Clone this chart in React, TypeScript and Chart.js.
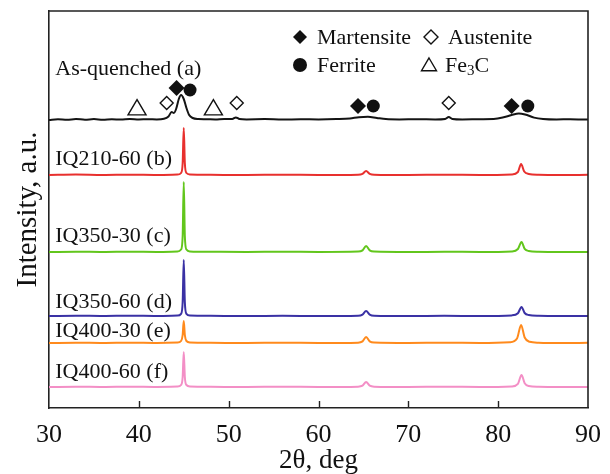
import { useEffect, useRef } from 'react';
import { Chart, registerables } from 'chart.js';

Chart.register(...registerables);

type Pt = [number, number];

// Diffraction patterns: [2θ (deg), intensity above the pattern's own baseline (a.u.)]
const AS_QUENCHED: Pt[] = [
  [30, 0], [31, 0.8], [32, 0.2], [33, 1], [34, 0.3], [35, 0.9], [36, 0.2], [37, 0.8],
  [38, 0.4], [39, 1], [40, 0.5], [41, 0.8], [42, 0.6], [42.8, 1.2], [43.3, 3.5], [43.65, 8],
  [43.9, 7], [44.15, 11], [44.45, 21], [44.7, 25], [45.0, 21], [45.3, 12], [45.6, 5],
  [46.0, 2], [46.6, 1], [47.5, 0.8], [48.5, 0.5], [49.5, 0.9], [50.4, 1], [50.8, 2.6],
  [51.2, 1], [52, 0.6], [54, 0.9], [56, 0.4], [58, 0.8], [60, 0.6], [62, 0.9], [63.5, 1.5],
  [64.5, 2.8], [65.5, 3.2], [66.5, 2], [67.5, 0.9], [69, 0.6], [71, 0.8], [73, 0.5],
  [74.1, 1], [74.5, 3], [74.9, 1], [76, 0.5], [78, 0.8], [79.5, 1], [80.5, 2.4],
  [81.5, 5], [82.3, 6.5], [83.0, 5.5], [84, 2.4], [85, 1], [86.5, 0.5], [88, 0.8], [90, 0.4],
];

const IQ210_60: Pt[] = [
  [30, 0], [33, 0.4], [36, 0], [39, 0.3], [42, 0], [44.3, 0.4], [44.7, 2], [44.88, 12],
  [45.0, 47], [45.12, 12], [45.3, 2], [45.7, 0.5], [48, 0.2], [52, 0], [56, 0.3], [60, 0],
  [64.4, 0.3], [64.9, 1.2], [65.3, 4], [65.7, 1.2], [66.2, 0.3], [70, 0], [74, 0.3], [78, 0],
  [81.5, 0.6], [82.2, 3], [82.55, 11], [82.9, 3.5], [83.4, 1], [84.5, 0.2], [87, 0], [90, 0.2],
];

const IQ350_30: Pt[] = [
  [30, 0], [33, 0.3], [36, 0], [39, 0.3], [42, 0.1], [44.3, 0.5], [44.7, 2.5], [44.88, 16],
  [45.0, 70], [45.12, 16], [45.3, 2.5], [45.7, 0.6], [48, 0.2], [52, 0], [56, 0.3], [60, 0],
  [64.4, 0.4], [64.9, 1.6], [65.3, 6], [65.7, 1.6], [66.2, 0.4], [70, 0], [74, 0.2], [78, 0.1],
  [81.5, 0.6], [82.2, 3], [82.6, 10], [82.95, 3.2], [83.4, 1], [84.5, 0.2], [87, 0], [90, 0.1],
];

const IQ350_60: Pt[] = [
  [30, 0], [33, 0.3], [36, 0], [39, 0.3], [42, 0], [44.3, 0.4], [44.7, 2.2], [44.88, 14],
  [45.0, 56], [45.12, 14], [45.3, 2.2], [45.7, 0.5], [48, 0.2], [52, 0], [56, 0.2], [60, 0],
  [64.4, 0.3], [64.9, 1.4], [65.3, 5], [65.7, 1.4], [66.2, 0.3], [70, 0], [74, 0.2], [78, 0],
  [81.5, 0.6], [82.2, 2.8], [82.6, 9], [82.95, 3], [83.4, 1], [84.5, 0.2], [87, 0], [90, 0],
];

const IQ400_30: Pt[] = [
  [30, 0], [33, 0.3], [36, 0], [39, 0.3], [42, 0], [44.3, 0.4], [44.7, 2], [44.88, 8],
  [45.0, 22], [45.12, 8], [45.3, 2], [45.7, 0.5], [48, 0.2], [52, 0], [56, 0.3], [60, 0],
  [64.4, 0.3], [64.9, 1.6], [65.3, 6], [65.7, 1.6], [66.2, 0.4], [70, 0], [74, 0.3], [78, 0],
  [81.3, 0.8], [82.1, 4.5], [82.55, 18], [82.95, 5.5], [83.5, 1.2], [84.5, 0.3], [87, 0], [90, 0.2],
];

const IQ400_60: Pt[] = [
  [30, 0], [33, 0.3], [36, 0], [39, 0.3], [42, 0], [44.3, 0.4], [44.7, 2], [44.88, 10],
  [45.0, 35], [45.12, 10], [45.3, 2], [45.7, 0.5], [48, 0.2], [52, 0], [56, 0.3], [60, 0],
  [64.4, 0.3], [64.9, 1.3], [65.3, 5], [65.7, 1.3], [66.2, 0.3], [70, 0], [74, 0.3], [78, 0],
  [81.5, 0.6], [82.2, 3.2], [82.6, 12], [82.95, 3.8], [83.4, 1], [84.5, 0.2], [87, 0], [90, 0.1],
];

const PATTERNS: Pt[][] = [AS_QUENCHED, IQ210_60, IQ350_30, IQ350_60, IQ400_30, IQ400_60];
const SAMPLE_NAMES = [
  'As-quenched (a)', 'IQ210-60 (b)', 'IQ350-30 (c)', 'IQ350-60 (d)', 'IQ400-30 (e)', 'IQ400-60 (f)',
];
// vertical offset of each stacked pattern
const BASELINES = [288, 233, 156, 92, 65, 21];

// phase markers: [2θ, stacked intensity]
const MARTENSITE: Pt[] = [[44.2, 320], [64.4, 302], [81.5, 302]];
const FERRITE: Pt[] = [[45.7, 318], [66.1, 302], [83.3, 302]];
const AUSTENITE: Pt[] = [[43.1, 305], [50.9, 305], [74.5, 305]];
const CEMENTITE: Pt[] = [[39.8, 300], [48.3, 300]];

const X_TICKS = [30, 40, 50, 60, 70, 80, 90];

const COLORS = ['#141414', '#e8302e', '#62c61c', '#3a31a4', '#ff8a1c', '#f38fc6'];
const SERIF = '"Liberation Serif", "Times New Roman", serif';
const INK = '#111';

// label baseline height above each pattern's baseline
const LABEL_RISE = [45, 10, 10, 8, 6, 9];

type MarkerKind = 'martensite' | 'ferrite' | 'austenite' | 'cementite';

function drawMarker(ctx: CanvasRenderingContext2D, kind: MarkerKind, x: number, y: number, r: number) {
  ctx.save();
  ctx.beginPath();
  if (kind === 'martensite' || kind === 'austenite') {
    ctx.moveTo(x, y - r);
    ctx.lineTo(x + r, y);
    ctx.lineTo(x, y + r);
    ctx.lineTo(x - r, y);
    ctx.closePath();
  } else if (kind === 'ferrite') {
    ctx.arc(x, y, r, 0, Math.PI * 2);
  } else {
    const h = r * 1.7;
    ctx.moveTo(x, y - h * 0.55);
    ctx.lineTo(x + r, y + h * 0.45);
    ctx.lineTo(x - r, y + h * 0.45);
    ctx.closePath();
  }
  if (kind === 'martensite' || kind === 'ferrite') {
    ctx.fillStyle = INK;
    ctx.fill();
  } else {
    ctx.fillStyle = '#fff';
    ctx.fill();
    ctx.lineWidth = 1.4;
    ctx.strokeStyle = INK;
    ctx.stroke();
  }
  ctx.restore();
}

const framePlugin = {
  id: 'frameAndTicks',
  afterDraw(chart: any) {
    const { ctx, chartArea } = chart;
    const xs = chart.scales.x;
    ctx.save();
    ctx.strokeStyle = '#222';
    ctx.lineWidth = 1.6;
    ctx.beginPath();
    ctx.moveTo(chartArea.left, chartArea.top);
    ctx.lineTo(chartArea.right, chartArea.top);
    ctx.lineTo(chartArea.right, chartArea.bottom);
    ctx.stroke();
    ctx.lineWidth = 1.4;
    ctx.beginPath();
    for (const t of X_TICKS.slice(1, -1)) {
      const px = Math.round(xs.getPixelForValue(t)) + 0.5;
      ctx.moveTo(px, chartArea.bottom);
      ctx.lineTo(px, chartArea.bottom - 7);
    }
    ctx.stroke();
    ctx.restore();
  },
};

const labelPlugin = {
  id: 'sampleLabels',
  afterDatasetsDraw(chart: any) {
    const { ctx } = chart;
    const xs = chart.scales.x;
    const ys = chart.scales.y;
    ctx.save();
    ctx.fillStyle = INK;
    ctx.font = `22px ${SERIF}`;
    ctx.textAlign = 'left';
    ctx.textBaseline = 'alphabetic';
    SAMPLE_NAMES.forEach((name, i) => {
      ctx.fillText(name, xs.getPixelForValue(30.7), ys.getPixelForValue(BASELINES[i] + LABEL_RISE[i]));
    });

    // phase key
    const key: { kind: MarkerKind; text: string; x: number; y: number }[] = [
      { kind: 'martensite', text: 'Martensite', x: 300, y: 37 },
      { kind: 'austenite', text: 'Austenite', x: 431, y: 37 },
      { kind: 'ferrite', text: 'Ferrite', x: 300, y: 65 },
      { kind: 'cementite', text: '', x: 429, y: 65 },
    ];
    for (const k of key) {
      drawMarker(ctx, k.kind, k.x, k.y, k.kind === 'cementite' ? 7.5 : 7);
      ctx.fillStyle = INK;
      ctx.font = `22px ${SERIF}`;
      if (k.text) {
        ctx.fillText(k.text, k.x + 17, k.y + 7);
      } else {
        let cx = k.x + 16;
        ctx.fillText('Fe', cx, k.y + 7);
        cx += ctx.measureText('Fe').width;
        ctx.font = `15px ${SERIF}`;
        ctx.fillText('3', cx, k.y + 10);
        cx += ctx.measureText('3').width;
        ctx.font = `22px ${SERIF}`;
        ctx.fillText('C', cx, k.y + 7);
      }
    }
    ctx.restore();
  },
};

const markerPlugin = {
  id: 'phaseMarkers',
  afterDatasetsDraw(chart: any) {
    const { ctx } = chart;
    const xs = chart.scales.x;
    const ys = chart.scales.y;
    const groups: [MarkerKind, Pt[], number][] = [
      ['cementite', CEMENTITE, 9],
      ['austenite', AUSTENITE, 6.5],
      ['martensite', MARTENSITE, 8],
      ['ferrite', FERRITE, 6.5],
    ];
    for (const [kind, pts, r] of groups) {
      for (const [x, y] of pts) {
        drawMarker(ctx, kind, xs.getPixelForValue(x), ys.getPixelForValue(y), r);
      }
    }
  },
};

export default function App() {
  const ref = useRef<HTMLCanvasElement | null>(null);

  useEffect(() => {
    if (!ref.current) return;
    const datasets = PATTERNS.map((pts, i) => ({
      label: SAMPLE_NAMES[i],
      data: pts.map(([x, y]) => ({ x, y: y + BASELINES[i] })),
      showLine: true,
      borderColor: COLORS[i],
      backgroundColor: COLORS[i],
      borderWidth: 2,
      pointRadius: 0,
      cubicInterpolationMode: 'monotone' as const,
    }));

    const chart = new Chart(ref.current, {
      type: 'scatter',
      data: { datasets },
      plugins: [framePlugin, labelPlugin, markerPlugin],
      options: {
        animation: false,
        responsive: false,
        layout: { padding: { top: 11, right: 22, left: 0, bottom: 0 } },
        plugins: { legend: { display: false }, tooltip: { enabled: false } },
        scales: {
          x: {
            type: 'linear',
            min: 30,
            max: 90,
            afterBuildTicks: (scale: any) => {
              scale.ticks = X_TICKS.map((v) => ({ value: v }));
            },
            afterFit: (scale: any) => {
              scale.height = 66;
            },
            grid: { display: false },
            border: { display: true, color: '#222', width: 1.6 },
            ticks: {
              color: INK,
              font: { family: SERIF, size: 26 },
              padding: 4,
              maxRotation: 0,
            },
            title: {
              display: true,
              text: '2θ, deg',
              color: INK,
              font: { family: SERIF, size: 27, lineHeight: 1 },
              padding: { top: 0, bottom: 0 },
            },
          },
          y: {
            type: 'linear',
            min: 0,
            max: 397,
            afterFit: (scale: any) => {
              scale.width = 49;
            },
            grid: { display: false },
            border: { display: true, color: '#222', width: 1.6 },
            ticks: { display: false },
            title: {
              display: true,
              text: 'Intensity, a.u.',
              color: INK,
              font: { family: SERIF, size: 29, lineHeight: 1.2 },
              padding: { top: 11, bottom: 0 },
            },
          },
        },
      },
    });
    return () => chart.destroy();
  }, []);

  return (
    <div style={{ position: 'absolute', left: 0, top: 0, width: 610, height: 474, background: '#fff' }}>
      <canvas ref={ref} width={610} height={474} />
    </div>
  );
}
